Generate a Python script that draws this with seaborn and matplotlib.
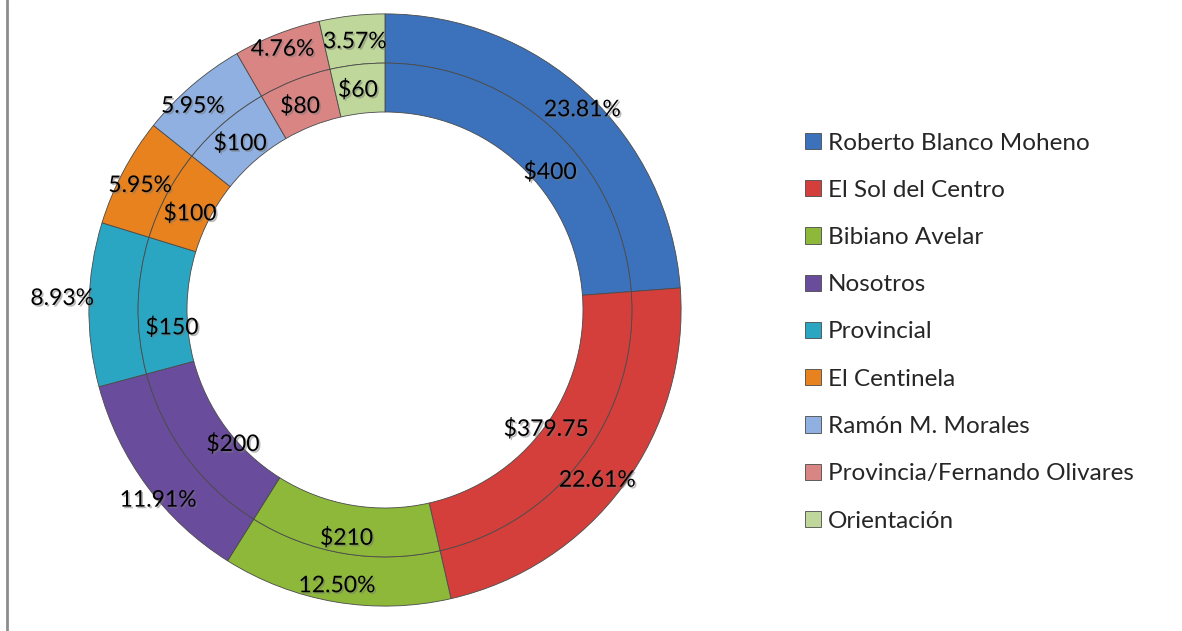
import matplotlib
matplotlib.use('Agg')
import numpy as np
import matplotlib.pyplot as plt
import matplotlib.patheffects as pe
from matplotlib.lines import Line2D
import seaborn as sns

# data
categories = ['Roberto Blanco Moheno', 'El Sol del Centro', 'Bibiano Avelar', 'Nosotros',
              'Provincial', 'El Centinela', 'Ramón M. Morales',
              'Provincia/Fernando Olivares', 'Orientación']
amounts = [400, 379.75, 210, 200, 150, 100, 100, 80, 60]
amount_labels = ['$400', '$379.75', '$210', '$200', '$150', '$100', '$100', '$80', '$60']
pct_labels = ['23.81%', '22.61%', '12.50%', '11.91%', '8.93%', '5.95%', '5.95%', '4.76%', '3.57%']
colors = ['#3C72BC', '#D43F3B', '#8DB83A', '#6A4C9C', '#2BA6C2',
          '#E8821F', '#8FB0E0', '#D98584', '#BFD79A']

# where Excel put each data label: radius (axes units) and angle nudge (deg) from slice middle
outer_lab_r = [0.937, 0.907, 0.933, 0.987, 1.077, 0.916, 0.934, 0.934, 0.90]
outer_lab_dang = [-1.7, -2.3, -0.3, 3.5, -1, 0.9, 2.6, 0, 0]
inner_lab_r = [0.717, 0.667, 0.77, 0.676, 0.713, 0.726, 0.737, 0.737, 0.74]
inner_lab_dang = [-7.2, 0, 0, 4.9, 5.7, 1.5, 0.3, 1.2, 0.6]


def place_labels(wedges, texts, radii, nudges):
    for w, t, r, d in zip(wedges, texts, radii, nudges):
        ang = np.deg2rad((w.theta1 + w.theta2) / 2 + d)
        t.set_position((r * np.cos(ang), r * np.sin(ang)))


def main():
    sns.set_theme(style='white')
    plt.rcParams['font.family'] = ['Lato', 'DejaVu Sans']

    fig = plt.figure(figsize=(11.82, 6.31), dpi=100)
    W, H = 1182, 631
    cx, cy, half = 385, 310, 300
    ax = fig.add_axes([(cx - half) / W, (H - cy - half) / H, 2 * half / W, 2 * half / H])

    r_out, r_mid, r_in = 0.987, 0.823, 0.66
    edge = dict(edgecolor='#4a4a4a', linewidth=0.6)
    shadow = [pe.SimplePatchShadow(offset=(1.2, -1.2), shadow_rgbFace='#777777', alpha=0.5), pe.Normal()]

    # outer ring: percentages
    outer, outer_txt = ax.pie(amounts, radius=r_out, colors=colors, startangle=90, counterclock=False,
                              labels=pct_labels, wedgeprops=dict(width=r_out - r_mid, **edge))
    # inner ring: amounts
    inner, inner_txt = ax.pie(amounts, radius=r_mid, colors=colors, startangle=90, counterclock=False,
                              labels=amount_labels, wedgeprops=dict(width=r_mid - r_in, **edge))
    place_labels(outer, outer_txt, outer_lab_r, outer_lab_dang)
    place_labels(inner, inner_txt, inner_lab_r, inner_lab_dang)
    for t in outer_txt + inner_txt:
        t.set_ha('center')
        t.set_va('center')
        t.set_fontsize(16.5)
        t.set_color('black')
        t.set_path_effects(shadow)

    ax.set_xlim(-1, 1)
    ax.set_ylim(-1, 1)
    ax.set_aspect('equal')
    ax.axis('off')

    fig.legend(outer, categories, loc='center left', bbox_to_anchor=(805 / W, (H - 332) / H),
               frameon=False, fontsize=17.5, handlelength=0.65, handleheight=0.65,
               handletextpad=0.3, labelspacing=1.08, borderaxespad=0, borderpad=0)

    # thin border on the left edge
    fig.add_artist(Line2D([7 / W, 7 / W], [0, 1], color='#8c8c8c', linewidth=2))

    plt.savefig('out.png', dpi=100, facecolor='white')
    plt.close()


if __name__ == '__main__':
    main()
